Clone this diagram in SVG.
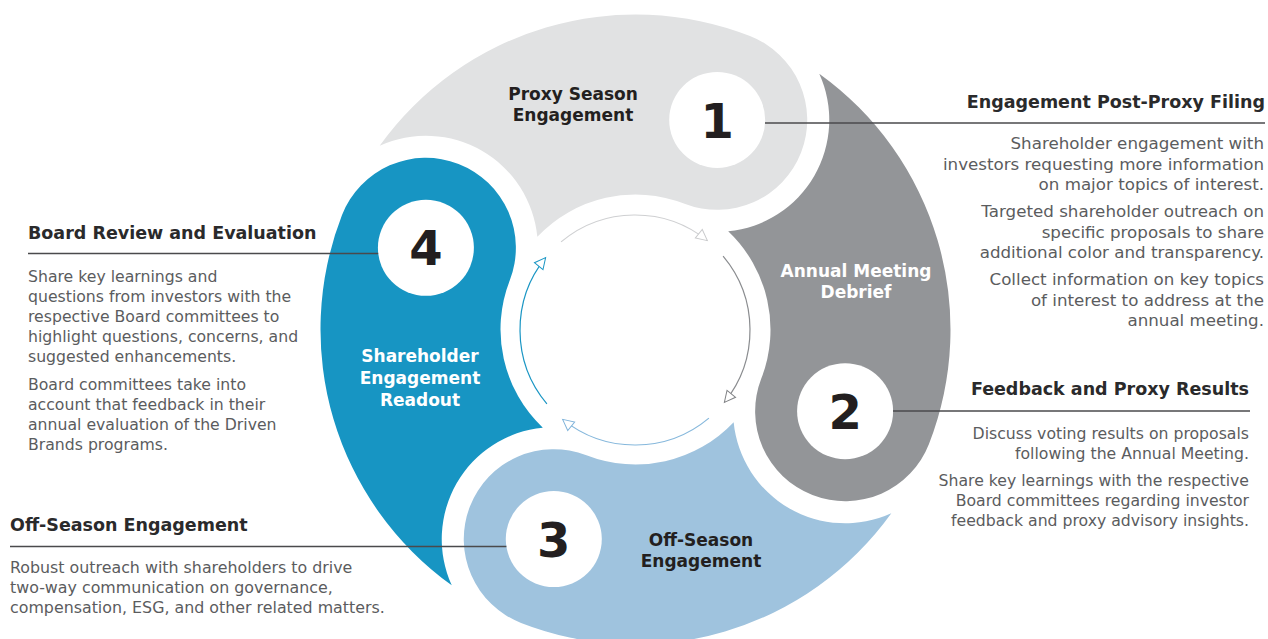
<svg xmlns="http://www.w3.org/2000/svg" width="1268" height="639" viewBox="0 0 1268 639">
<defs>
<style>
.h{font-family:"DejaVu Sans",sans-serif;font-weight:bold;font-size:17.5px;fill:#2a2a2b}
.b{font-family:"DejaVu Sans",sans-serif;font-size:15.7px;fill:#5b5c5e}
.b1{font-size:16.7px}
.b3{font-size:15.85px}
.r{text-anchor:end}
.lbl{font-family:"DejaVu Sans",sans-serif;font-weight:bold;font-size:17px;text-anchor:middle}
.dk{fill:#231f20}
.wt{fill:#ffffff}
.num{font-family:"DejaVu Sans",sans-serif;font-weight:bold;font-size:48px;text-anchor:middle;fill:#231f20}
.nc{fill:#ffffff}
.lead{stroke:#4a4a4c;stroke-width:1.5;fill:none}
.arc{fill:none;stroke-width:1.2}
</style>
<path id="petal" d="M78.29,-305.12 A315,315 0 0 1 315,0 A90,90 0 0 1 225,90 A90,90 0 0 1 135,0 A135,135 0 0 0 50.7,-125.12 A112,112 0 0 0 78.29,-305.12 Z"/>
<path id="ring" d="M-73.92,-88.09 A115,115 0 0 1 72.37,-89.37"/>
<marker id="a1" viewBox="-13 -7 15 14" refX="0" refY="0" markerWidth="15" markerHeight="14" orient="auto" markerUnits="userSpaceOnUse" overflow="visible"><path d="M0,0 L-11,-5.5 L-11,5.5 Z" fill="#fff" stroke="#c9cacc" stroke-width="1"/></marker>
<marker id="a2" viewBox="-13 -7 15 14" refX="0" refY="0" markerWidth="15" markerHeight="14" orient="auto" markerUnits="userSpaceOnUse" overflow="visible"><path d="M0,0 L-11,-5.5 L-11,5.5 Z" fill="#fff" stroke="#808285" stroke-width="1"/></marker>
<marker id="a3" viewBox="-13 -7 15 14" refX="0" refY="0" markerWidth="15" markerHeight="14" orient="auto" markerUnits="userSpaceOnUse" overflow="visible"><path d="M0,0 L-11,-5.5 L-11,5.5 Z" fill="#fff" stroke="#7fb3da" stroke-width="1"/></marker>
<marker id="a4" viewBox="-13 -7 15 14" refX="0" refY="0" markerWidth="15" markerHeight="14" orient="auto" markerUnits="userSpaceOnUse" overflow="visible"><path d="M0,0 L-11,-5.5 L-11,5.5 Z" fill="#fff" stroke="#1a96c4" stroke-width="1"/></marker>
</defs>
<rect width="1268" height="639" fill="#ffffff"/>

<g id="step1">
<use href="#petal" transform="translate(635.5,329.5) rotate(-68.7)" fill="#e1e2e3"/>
<circle class="nc" cx="717.2" cy="119.9" r="48"/>
<text class="num" x="717.2" y="137.5">1</text>
<text class="lbl dk" x="573" y="100">Proxy Season</text>
<text class="lbl dk" x="573" y="121">Engagement</text>
<text class="h r" x="1265" y="108">Engagement Post-Proxy Filing</text>
<text class="b b1 r" x="1264" y="149">Shareholder engagement with</text>
<text class="b b1 r" x="1264" y="169.5">investors requesting more information</text>
<text class="b b1 r" x="1264" y="190">on major topics of interest.</text>
<text class="b b1 r" x="1264" y="217">Targeted shareholder outreach on</text>
<text class="b b1 r" x="1264" y="237.5">specific proposals to share</text>
<text class="b b1 r" x="1264" y="258">additional color and transparency.</text>
<text class="b b1 r" x="1264" y="285">Collect information on key topics</text>
<text class="b b1 r" x="1264" y="305.5">of interest to address at the</text>
<text class="b b1 r" x="1264" y="326">annual meeting.</text>
</g>

<g id="step2">
<use href="#petal" transform="translate(635.5,329.5) rotate(21.3)" fill="#939598"/>
<circle class="nc" cx="845.1" cy="411.2" r="48"/>
<text class="num" x="845.1" y="428.8">2</text>
<text class="lbl wt" x="856" y="277">Annual Meeting</text>
<text class="lbl wt" x="856" y="298">Debrief</text>
<text class="h r" x="1249" y="395">Feedback and Proxy Results</text>
<text class="b r" x="1249" y="439">Discuss voting results on proposals</text>
<text class="b r" x="1249" y="459">following the Annual Meeting.</text>
<text class="b r" x="1249" y="486">Share key learnings with the respective</text>
<text class="b r" x="1249" y="506">Board committees regarding investor</text>
<text class="b r" x="1249" y="526">feedback and proxy advisory insights.</text>
</g>

<g id="step3">
<use href="#petal" transform="translate(635.5,329.5) rotate(111.3)" fill="#9fc3de"/>
<circle class="nc" cx="553.8" cy="539.1" r="48"/>
<text class="num" x="553.8" y="556.7">3</text>
<text class="lbl dk" x="701" y="546">Off-Season</text>
<text class="lbl dk" x="701" y="567">Engagement</text>
<text class="h" x="10" y="531">Off-Season Engagement</text>
<text class="b b3" x="10" y="573">Robust outreach with shareholders to drive</text>
<text class="b b3" x="10" y="593">two-way communication on governance,</text>
<text class="b b3" x="10" y="613">compensation, ESG, and other related matters.</text>
</g>

<g id="step4">
<use href="#petal" transform="translate(635.5,329.5) rotate(201.3)" fill="#1795c3"/>
<circle class="nc" cx="425.9" cy="247.8" r="48"/>
<text class="num" x="425.9" y="265.4">4</text>
<text class="lbl wt" x="420" y="362">Shareholder</text>
<text class="lbl wt" x="420" y="384">Engagement</text>
<text class="lbl wt" x="420" y="406">Readout</text>
<text class="h" x="28" y="239">Board Review and Evaluation</text>
<text class="b" x="28" y="281.5">Share key learnings and</text>
<text class="b" x="28" y="301.5">questions from investors with the</text>
<text class="b" x="28" y="321.5">respective Board committees to</text>
<text class="b" x="28" y="341.5">highlight questions, concerns, and</text>
<text class="b" x="28" y="361.5">suggested enhancements.</text>
<text class="b" x="28" y="390">Board committees take into</text>
<text class="b" x="28" y="409.5">account that feedback in their</text>
<text class="b" x="28" y="429.5">annual evaluation of the Driven</text>
<text class="b" x="28" y="449.5">Brands programs.</text>
</g>

<g id="connectors">
<path class="lead" d="M765,123 H1265"/>
<path class="lead" d="M893,411 H1250"/>
<path class="lead" d="M506.4,546.5 H10"/>
<path class="lead" d="M378.2,253.5 H28"/>
<use href="#ring" class="arc" stroke="#cfd0d2" marker-end="url(#a1)" transform="translate(635,330)"/>
<use href="#ring" class="arc" stroke="#8a8c8f" marker-end="url(#a2)" transform="translate(635,330) rotate(90)"/>
<use href="#ring" class="arc" stroke="#86b8dc" marker-end="url(#a3)" transform="translate(635,330) rotate(180)"/>
<use href="#ring" class="arc" stroke="#1a96c4" marker-end="url(#a4)" transform="translate(635,330) rotate(270)"/>
</g>
</svg>
